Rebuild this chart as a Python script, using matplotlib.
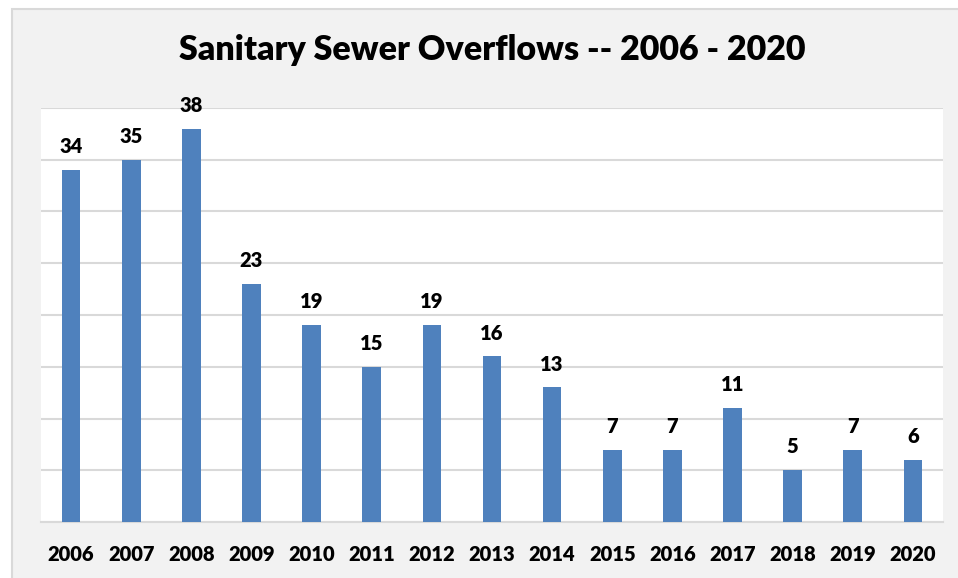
import matplotlib
matplotlib.use("Agg")
import matplotlib.pyplot as plt
from matplotlib.patches import Rectangle

years = ["2006", "2007", "2008", "2009", "2010", "2011", "2012", "2013",
         "2014", "2015", "2016", "2017", "2018", "2019", "2020"]
overflows = [34, 35, 38, 23, 19, 15, 19, 16, 13, 7, 7, 11, 5, 7, 6]

W, H = 958, 578
fig = plt.figure(figsize=(W / 100, H / 100), dpi=100)
fig.patch.set_facecolor("white")
# chart area background with border (extends past right/bottom edges)
bg = Rectangle((12 / W, -0.02), 1.0, 1 - 9 / H + 0.02, transform=fig.transFigure,
               facecolor="#f2f2f2", edgecolor="#d9d9d9", linewidth=1.5, zorder=-5)
fig.patches.append(bg)

left, right, top, bottom = 41, 943, 108, 522
ax = fig.add_axes([left / W, 1 - bottom / H, (right - left) / W, (bottom - top) / H])
ax.set_zorder(2)
ax.set_facecolor("white")
x = list(range(len(years)))
ax.bar(x, overflows, width=0.31, color="#4f81bd", zorder=3)
ax.set_xlim(-0.5, len(years) - 0.5)
ax.set_ylim(0, 40)
ax.set_yticks(range(0, 41, 5))
ax.yaxis.grid(True, color="#d9d9d9", linewidth=1.5, zorder=0)
ax.set_axisbelow(True)
ax.tick_params(axis="y", left=False, labelleft=False)
ax.tick_params(axis="x", bottom=False, pad=13)
ax.set_xticks(x)
ax.set_xticklabels(years, fontsize=14.5, fontweight="heavy", family="Lato")
for s in ["left", "right", "top"]:
    ax.spines[s].set_visible(False)
ax.spines["bottom"].set_color("#d9d9d9")
ax.spines["bottom"].set_linewidth(1.5)
for xi, v in zip(x, overflows):
    ax.annotate(str(v), (xi, v), xytext=(0, 10), textcoords="offset points",
                ha="center", va="bottom", fontsize=14.5, fontweight="heavy",
                family="Lato", zorder=4, annotation_clip=False)
fig.text(492 / W, 1 - 50 / H, "Sanitary Sewer Overflows -- 2006 - 2020",
         ha="center", va="center", fontsize=24.5, fontweight="heavy", family="Lato")
fig.savefig("out.png", dpi=100, facecolor=fig.get_facecolor())
